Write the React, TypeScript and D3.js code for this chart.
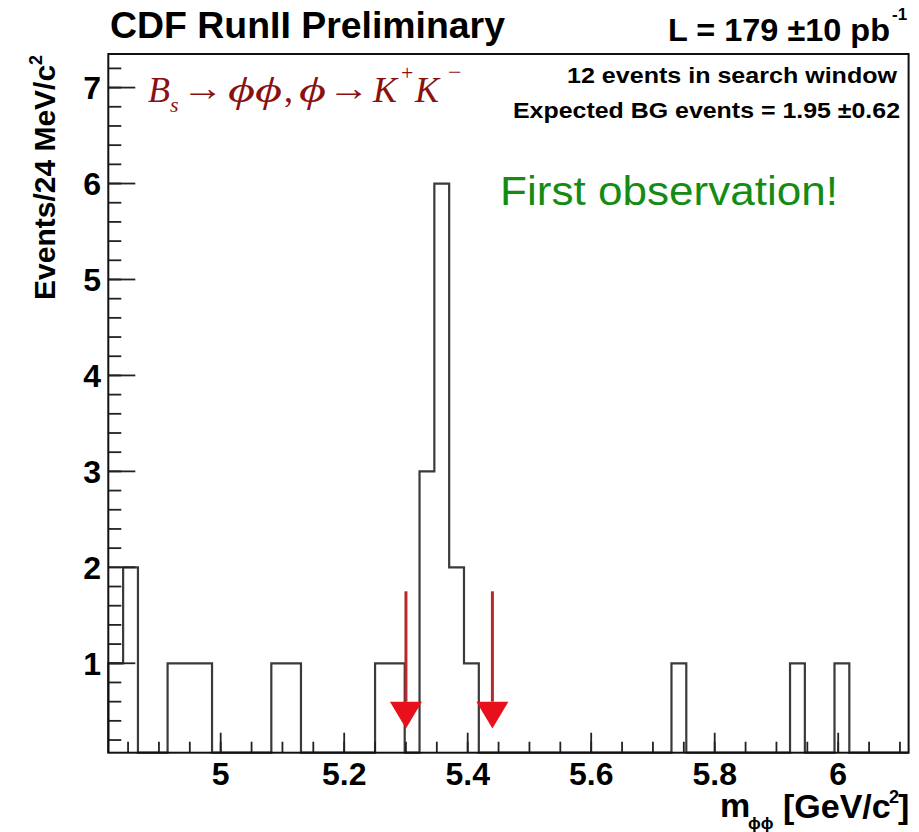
import React from 'react';
import * as d3 from 'd3';

const W = 919;
const H = 832;

// Histogram definition (24 MeV bins)
const xMin = 4.818;
const binWidth = 0.024;
const binCounts = [
  1, 2, 0, 0, 1, 1, 1, 0, 0, 0,
  0, 1, 1, 0, 0, 0, 0, 0, 1, 1,
  0, 3, 6, 2, 1, 0, 0, 0, 0, 0,
  0, 0, 0, 0, 0, 0, 0, 0, 1, 0,
  0, 0, 0, 0, 0, 0, 1, 0, 0, 1,
  0, 0, 0, 0,
];
const xMax = xMin + binCounts.length * binWidth;
const yMin = 0.068;
const yMax = 7.35;

const xMajorTicks = [5, 5.2, 5.4, 5.6, 5.8, 6];
const xTickLabels = ['5', '5.2', '5.4', '5.6', '5.8', '6'];
const yMajorTicks = [1, 2, 3, 4, 5, 6, 7];
const yTickLabels = ['1', '2', '3', '4', '5', '6', '7'];

// Search window arrows
const arrowX = [5.3, 5.44];
const arrowTop = 1.75;
const arrowHeadBase = 0.6;
const arrowTip = 0.32;

const SANS = '"Liberation Sans", Arial, Helvetica, sans-serif';
const SERIF = '"Liberation Serif", "Times New Roman", "DejaVu Serif", serif';

export default function App() {
  const x = d3.scaleLinear().domain([xMin, xMax]).range([108.3, 908.6]);
  const y = d3.scaleLinear().domain([yMin, yMax]).range([752.7, 54]);

  const xMinor = d3.range(97, 123).map((i) => i * 0.05).filter((v) => v > xMin && v < xMax);
  const yMinor = d3.range(1, 37).map((i) => i * 0.2).filter((v) => v > yMin && v < yMax);

  // step outline
  const pts: [number, number][] = [];
  pts.push([x(xMin), y(yMin)]);
  binCounts.forEach((c, i) => {
    const v = Math.max(c, yMin);
    pts.push([x(xMin + i * binWidth), y(v)]);
    pts.push([x(xMin + (i + 1) * binWidth), y(v)]);
  });
  pts.push([x(xMax), y(yMin)]);
  const histPath = d3.line()(pts) as string;

  const x0 = x(xMin), x1 = x(xMax), yb = y(yMin), yt = y(yMax);

  return (
    <svg width={W} height={H} style={{ position: 'absolute', left: 0, top: 0, background: '#fff' }}>
      <rect x={0} y={0} width={W} height={H} fill="#fff" />

      {/* histogram */}
      <path d={histPath} fill="none" stroke="#3a3a3a" strokeWidth={2.2} />

      {/* x ticks */}
      {xMinor.map((v, i) => (
        <line key={'xm' + i} x1={x(v)} x2={x(v)} y1={yb} y2={yb - 11} stroke="#222" strokeWidth={1.8} />
      ))}
      {xMajorTicks.map((v, i) => (
        <line key={'xM' + i} x1={x(v)} x2={x(v)} y1={yb} y2={yb - 20} stroke="#222" strokeWidth={1.8} />
      ))}
      {/* y ticks */}
      {yMinor.map((v, i) => (
        <line key={'ym' + i} x1={x0} x2={x0 + 13} y1={y(v)} y2={y(v)} stroke="#222" strokeWidth={1.8} />
      ))}
      {yMajorTicks.map((v, i) => (
        <line key={'yM' + i} x1={x0} x2={x0 + 27} y1={y(v)} y2={y(v)} stroke="#222" strokeWidth={1.8} />
      ))}

      {/* frame */}
      <rect x={x0} y={yt} width={x1 - x0} height={yb - yt} fill="none" stroke="#111" strokeWidth={2} />

      {/* arrows */}
      {arrowX.map((v, i) => (
        <g key={'ar' + i}>
          <line x1={x(v)} x2={x(v)} y1={y(arrowTop)} y2={y(arrowHeadBase)} stroke="#b52a2a" strokeWidth={3} />
          <path
            d={`M${x(v) - 16},${y(arrowHeadBase)} L${x(v) + 16},${y(arrowHeadBase)} L${x(v)},${y(arrowTip)} Z`}
            fill="#e8101a"
          />
        </g>
      ))}

      {/* tick labels */}
      {xMajorTicks.map((v, i) => (
        <text key={'xl' + i} x={x(v)} y={785} textAnchor="middle" fontFamily={SANS} fontWeight="bold" fontSize={32}>
          {xTickLabels[i]}
        </text>
      ))}
      {yMajorTicks.map((v, i) => (
        <text key={'yl' + i} x={101} y={y(v) + 11.5} textAnchor="end" fontFamily={SANS} fontWeight="bold" fontSize={32}>
          {yTickLabels[i]}
        </text>
      ))}

      {/* axis titles */}
      <g fontFamily={SANS} fontWeight="bold">
        <text x={720} y={817} fontSize={34}>m</text>
        <text x={748} y={829} fontSize={17}>ϕϕ</text>
        <text x={783} y={818} fontSize={34}>[GeV/c</text>
        <text x={889} y={803} fontSize={18}>2</text>
        <text x={898} y={818} fontSize={34}>]</text>
      </g>
      <text transform="translate(55,300) rotate(-90)" fontFamily={SANS} fontWeight="bold" fontSize={30}>
        Events/24 MeV/c
        <tspan dy={-13} fontSize={18}>2</tspan>
      </text>

      {/* header */}
      <text x={110} y={38} fontFamily={SANS} fontWeight="bold" fontSize={37} textLength={395} lengthAdjust="spacingAndGlyphs">
        CDF RunII Preliminary
      </text>
      <text x={668} y={41} fontFamily={SANS} fontWeight="bold" fontSize={32} textLength={222} lengthAdjust="spacingAndGlyphs">
        L = 179 ±10 pb
      </text>
      <text x={892} y={20} fontFamily={SANS} fontWeight="bold" fontSize={17}>-1</text>

      {/* pave text */}
      <text x={567} y={83} fontFamily={SANS} fontWeight="bold" fontSize={22} textLength={330} lengthAdjust="spacingAndGlyphs">
        12 events in search window
      </text>
      <text x={513} y={118} fontFamily={SANS} fontWeight="bold" fontSize={22} textLength={387} lengthAdjust="spacingAndGlyphs">
        Expected BG events = 1.95 ±0.62
      </text>

      {/* decay formula */}
      <g fontFamily={SERIF} fill="#8b1010">
        <text x={148} y={102} fontSize={36} fontStyle="italic">B</text>
        <text x={170} y={112} fontSize={22} fontStyle="italic">s</text>
        <text x={182} y={100} fontSize={36} textLength={42} lengthAdjust="spacingAndGlyphs">→</text>
        <text x={228} y={102} fontSize={36} fontStyle="italic" textLength={54} lengthAdjust="spacingAndGlyphs">ϕϕ</text>
        <text x={284} y={102} fontSize={36}>,</text>
        <text x={299} y={102} fontSize={36} fontStyle="italic" textLength={27} lengthAdjust="spacingAndGlyphs">ϕ</text>
        <text x={328} y={100} fontSize={36} textLength={42} lengthAdjust="spacingAndGlyphs">→</text>
        <text x={373} y={102} fontSize={36} fontStyle="italic">K</text>
        <text x={401} y={80} fontSize={22}>+</text>
        <text x={415} y={102} fontSize={36} fontStyle="italic">K</text>
        <text x={448} y={80} fontSize={24}>−</text>
      </g>

      <text x={500} y={205} fontFamily={SANS} fontSize={40} fill="#148c14" textLength={338} lengthAdjust="spacingAndGlyphs">
        First observation!
      </text>
    </svg>
  );
}
